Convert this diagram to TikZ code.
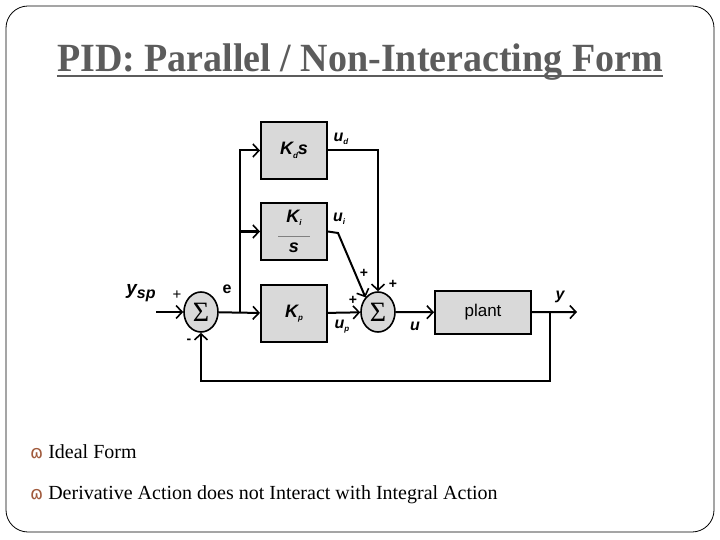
\documentclass[tikz,border=0pt]{standalone}
\usepackage{fontspec}
\setmainfont{Liberation Serif}
\setsansfont{Liberation Sans}
\newfontfamily\bulletfont{DejaVu Sans}
\usetikzlibrary{arrows.meta,shapes.geometric,calc}
\definecolor{ttlgray}{RGB}{92,92,92}
\definecolor{blkfill}{RGB}{217,217,217}
\definecolor{bulletbrown}{RGB}{160,90,60}
\tikzset{
  blk/.style={
    draw=black,
    line width=2pt,
    fill=blkfill,
    minimum width=66pt,
    minimum height=57pt,
    inner sep=0pt,
    align=center,
    font=\sffamily\bfseries\itshape\fontsize{18}{20}\selectfont
  },
  sumnode/.style={
    ellipse,
    draw=black,
    line width=1.6pt,
    fill=blkfill,
    minimum width=34pt,
    minimum height=40pt,
    inner sep=0pt,
    font=\fontsize{28}{28}\selectfont
  },
  arr/.style={line width=2pt, -{Straight Barb[length=6pt,width=13pt,line width=1.6pt]}},
  sig/.style={font=\sffamily\bfseries\itshape\fontsize{16}{18}\selectfont, inner sep=0pt},
  pm/.style={font=\sffamily\bfseries\fontsize{14}{14}\selectfont, inner sep=0pt},
  bul/.style={font=\fontsize{20}{22}\selectfont, inner sep=0pt, anchor=base west},
}
\newcommand{\sbs}[1]{\raisebox{-0.35ex}{\fontsize{8}{8}\selectfont #1}}
\newcommand{\bulmark}{\textcolor{bulletbrown}{\bulletfont\fontsize{18}{18}\selectfont ɷ}\hspace{5pt}}

\begin{document}
\begin{tikzpicture}[x=1pt,y=-1pt]
  \useasboundingbox (0,0) rectangle (720,540);
  \draw[line width=0.8pt, rounded corners=22pt] (6,6) rectangle (714,532);

  % title
  \node[font=\bfseries\fontsize{40}{44}\selectfont, text=ttlgray, inner sep=0pt, anchor=base] (title) at (360,72)
    {\scalebox{0.95}[1]{PID: Parallel / Non-Interacting Form}};
  \draw[ttlgray, line width=2.4pt] ($(title.base west)+(0,4)$) -- ($(title.base east)+(0,4)$);

  % blocks
  \node[blk] (kd) at (294,150.5) {K\sbs{d}s};
  \node[blk] (ki) at (294,231.5) {K\sbs{i}\\[-6pt]\textcolor{gray}{\rule{32pt}{0.6pt}}\\[-4pt]s};
  \node[blk] (kp) at (294,313.5) {K\sbs{p}};
  \node[blk, minimum width=96pt, minimum height=43pt, font=\sffamily\fontsize{17}{19}\selectfont] (plant) at (483,312.5) {plant};
  \node[sumnode] (sum1) at (201,312) {Σ};
  \node[sumnode] (sum2) at (378,312) {Σ};

  % coordinates
  \coordinate (in) at (156,312);
  \coordinate (br) at (240,312);
  \coordinate (kibend) at (338,233);
  \coordinate (fb) at (550,312);
  \coordinate (fbl) at (550,381);
  \coordinate (out) at (577,312);

  % connectors
  \draw[arr] (in) -- (sum1);
  \draw[arr] (sum1) -- (kp);
  \draw[arr] (br) |- (kd.west);
  \draw[arr] (br |- ki.west) -- (ki.west);
  \draw[arr] (kd.east) -| (sum2.north);
  \draw[arr] (ki.east) -- (kibend) -- (sum2.north west);
  \draw[arr] (kp) -- (sum2);
  \draw[arr] (sum2) -- (plant);
  \draw[arr] (plant) -- (out);
  \draw[arr] (fb) -- (fbl) -| (sum1.south);

  % signal labels
  \node[sig, font=\sffamily\bfseries\itshape\fontsize{19}{20}\selectfont] (ysp) at (141,293) {y\raisebox{-0.4ex}{\fontsize{16}{16}\selectfont sp}};
  \node[sig, font=\sffamily\bfseries\fontsize{16}{18}\selectfont] (e) at (227,289) {e};
  \node[sig] (ud) at (341,139) {u\sbs{d}};
  \node[sig] (ui) at (339,219) {u\sbs{i}};
  \node[sig] (up) at (342,327) {u\sbs{p}};
  \node[sig] (u) at (415,326) {u};
  \node[sig] (y) at (560,297) {y};

  % signs
  \node[pm, font=\sffamily\fontsize{15}{15}\selectfont] (p1) at (177,295) {+};
  \node[pm] (m1) at (189,341) {-};
  \node[pm] (p2) at (353,300) {+};
  \node[pm] (p3) at (364,273) {+};
  \node[pm] (p4) at (393,284) {+};

  % bullets
  \node[bul] (b1) at (30,458) {\bulmark Ideal Form};
  \node[bul] (b2) at (30,499) {\bulmark Derivative Action does not Interact with Integral Action};
\end{tikzpicture}
\end{document}
